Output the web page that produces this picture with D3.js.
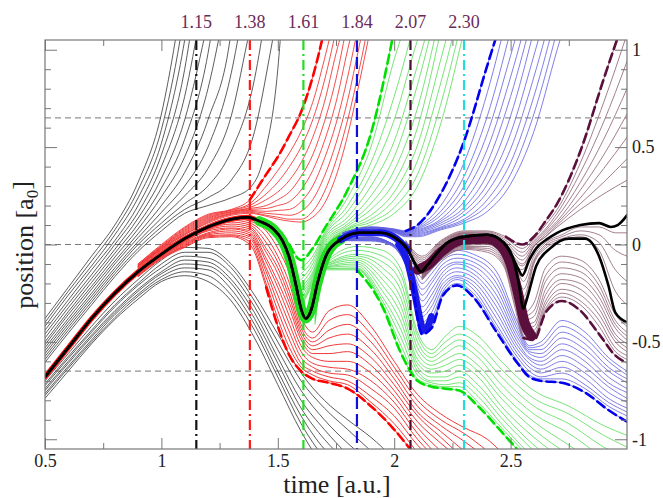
<!DOCTYPE html>
<html lang="en">
<head>
<meta charset="UTF-8">
<title>Trajectories</title>
<script src="https://d3js.org/d3.v7.min.js"></script>
<style>
  body { margin: 0; background: #fff; }
  svg text { font-family: "Liberation Serif", "DejaVu Serif", serif; }
</style>
</head>
<body>
<svg id="chart" width="663" height="498"></svg>
<script>
// marked times (vertical lines) and reference positions (horizontal dashed)
const markTimes = [1.15, 1.38, 1.61, 1.84, 2.07, 2.30];
const markLabels = ["1.15", "1.38", "1.61", "1.84", "2.07", "2.30"];
const markColors = ["#111111", "#ff1a1a", "#22dd22", "#1010dd", "#4a1030", "#22dddd"];
const markDash = ["10,4,2,4", "10,4,2,4", "10,4,2,4", "12,5", "10,4,2,4", "10,4,2,4"];
const refPositions = [0.65, 0, -0.65];

// ticks
const xMajor = [0.5, 1, 1.5, 2, 2.5];
const xMinor = [0.75, 1.25, 1.75, 2.25, 2.75];
const yMajor = [-1, -0.5, 0, 0.5, 1];
const yMinor = [-0.9, -0.8, -0.7, -0.6, -0.4, -0.3, -0.2, -0.1, 0.1, 0.2, 0.3, 0.4, 0.6, 0.7, 0.8, 0.9];

// main (thick black) trajectory, then its two branches
const trunk = [[0.5,-0.68],[0.6,-0.53],[0.7,-0.38],[0.8,-0.25],[0.9,-0.14],[1.0,-0.05],[1.1,0.03],[1.2,0.09],
  [1.3,0.13],[1.37,0.14],[1.42,0.12],[1.48,0.08],[1.52,0.02],[1.55,-0.07],[1.58,-0.22],[1.6,-0.33],[1.62,-0.38],
  [1.645,-0.33],[1.67,-0.2],[1.71,-0.05],[1.77,0.025],[1.85,0.06],[1.94,0.06],[2.01,0.03],[2.06,-0.03],[2.09,-0.1],
  [2.115,-0.14],[2.14,-0.11],[2.18,-0.05],[2.23,0.01],[2.3,0.04],[2.4,0.05],[2.47,0.01],[2.51,-0.07]];
const tailA = [[2.535,-0.13],[2.55,-0.16],[2.58,-0.08],[2.61,-0.02],[2.66,0.03],[2.7,0.06],[2.8,0.1],[2.88,0.11],
  [2.93,0.09],[2.96,0.1],[3.0,0.15]];
const tailB = [[2.535,-0.2],[2.555,-0.33],[2.57,-0.28],[2.61,-0.11],[2.67,-0.02],[2.75,0.03],[2.82,0.03],[2.88,-0.06],
  [2.92,-0.21],[2.95,-0.35],[3.0,-0.4]];
// dense parts of the blue and maroon bundles
const blueBand = [[2.02,0.0],[2.06,-0.1],[2.09,-0.26],[2.11,-0.38],[2.125,-0.44],[2.14,-0.43],[2.16,-0.37]];
const maroonBand = [[2.1,-0.13],[2.15,-0.1],[2.2,-0.04],[2.3,0.025],[2.4,0.03],[2.46,-0.01],[2.5,-0.1],[2.53,-0.24],
  [2.56,-0.4],[2.59,-0.47]];

// black trajectories that leave upwards
const blackUp = [
  [[0.5,-0.38],[0.6,-0.22],[0.7,-0.06],[0.8,0.1],[0.9,0.32],[1.0,0.67],[1.06,1.05],[1.08,1.2]],
  [[0.5,-0.40],[0.6,-0.24],[0.7,-0.085],[0.8,0.075],[0.9,0.28],[1.0,0.59],[1.08,1.05],[1.1,1.2]],
  [[0.5,-0.42],[0.6,-0.26],[0.7,-0.11],[0.8,0.05],[0.9,0.24],[1.0,0.52],[1.1,1.05],[1.12,1.2]],
  [[0.5,-0.44],[0.6,-0.285],[0.7,-0.13],[0.8,0.02],[0.9,0.2],[1.0,0.46],[1.1,0.9],[1.14,1.2]],
  [[0.5,-0.46],[0.6,-0.305],[0.7,-0.155],[0.8,0.0],[0.9,0.165],[1.0,0.4],[1.1,0.76],[1.17,1.2]],
  [[0.5,-0.48],[0.6,-0.325],[0.7,-0.175],[0.8,-0.025],[0.9,0.135],[1.0,0.34],[1.1,0.64],[1.2,1.15]],
  [[0.5,-0.50],[0.6,-0.345],[0.7,-0.195],[0.8,-0.045],[0.9,0.105],[1.0,0.29],[1.1,0.54],[1.2,0.98],[1.23,1.2]],
  [[0.5,-0.515],[0.6,-0.36],[0.7,-0.215],[0.8,-0.065],[0.9,0.08],[1.0,0.245],[1.1,0.45],[1.2,0.8],[1.27,1.2]],
  [[0.5,-0.53],[0.6,-0.38],[0.7,-0.23],[0.8,-0.085],[0.9,0.055],[1.0,0.2],[1.1,0.37],[1.2,0.64],[1.3,1.1],[1.31,1.2]],
  [[0.5,-0.545],[0.6,-0.395],[0.7,-0.25],[0.8,-0.1],[0.9,0.035],[1.0,0.165],[1.1,0.3],[1.2,0.5],[1.3,0.88],[1.35,1.2]],
  [[0.5,-0.56],[0.6,-0.41],[0.7,-0.265],[0.8,-0.12],[0.9,0.015],[1.0,0.135],[1.1,0.25],[1.2,0.39],[1.3,0.66],[1.38,1.1],[1.4,1.2]],
  [[0.5,-0.575],[0.6,-0.425],[0.7,-0.28],[0.8,-0.135],[0.9,0.0],[1.0,0.11],[1.1,0.21],[1.2,0.3],[1.3,0.48],[1.4,0.85],[1.45,1.2]],
  [[0.5,-0.59],[0.6,-0.44],[0.7,-0.295],[0.8,-0.15],[0.9,-0.02],[1.0,0.09],[1.1,0.18],[1.2,0.24],[1.3,0.33],[1.4,0.58],[1.47,1.0],[1.5,1.2]],
  [[0.5,-0.605],[0.6,-0.455],[0.7,-0.31],[0.8,-0.165],[0.9,-0.035],[1.0,0.07],[1.1,0.16],[1.2,0.2],[1.3,0.24],[1.38,0.29],[1.44,0.45],[1.5,0.9],[1.52,1.2]]
];

// black trajectories that leave downwards
const blackDownTimes = [0.5,0.6,0.7,0.8,0.9,1.0,1.1,1.2,1.3,1.4,1.5,1.6,1.7,1.8,1.9,2.0];
const blackDown = [
  [-0.70,-0.56,-0.42,-0.29,-0.18,-0.08,-0.015,-0.02,-0.1,-0.26,-0.46,-0.66,-0.8,-0.9,-0.99,-1.1],
  [-0.715,-0.575,-0.44,-0.31,-0.2,-0.1,-0.04,-0.04,-0.12,-0.29,-0.5,-0.7,-0.84,-0.95,-1.06],
  [-0.725,-0.585,-0.45,-0.32,-0.21,-0.12,-0.06,-0.07,-0.15,-0.32,-0.54,-0.75,-0.9,-1.02,-1.12],
  [-0.74,-0.6,-0.465,-0.34,-0.23,-0.14,-0.08,-0.09,-0.18,-0.35,-0.58,-0.8,-0.95,-1.08],
  [-0.75,-0.61,-0.475,-0.35,-0.24,-0.15,-0.1,-0.11,-0.2,-0.38,-0.61,-0.84,-1.0,-1.12],
  [-0.765,-0.625,-0.49,-0.36,-0.255,-0.165,-0.12,-0.13,-0.23,-0.41,-0.65,-0.88,-1.05,-1.15],
  [-0.775,-0.635,-0.5,-0.375,-0.265,-0.18,-0.14,-0.16,-0.26,-0.44,-0.68,-0.92,-1.1],
  [-0.79,-0.65,-0.51,-0.385,-0.28,-0.19,-0.16,-0.19,-0.29,-0.48,-0.72,-0.96,-1.15]
];

// red trajectories
const redUpTimes = [0.9,1.0,1.1,1.2,1.3,1.38,1.45,1.5,1.55,1.6,1.65,1.7,1.75,1.8,1.85,1.9];
const redUp = [
  [-0.1,0.0,0.09,0.155,0.18,0.23,0.36,0.45,0.56,0.68,0.86,1.1],
  [-0.1,-0.005,0.085,0.15,0.177,0.21,0.3,0.38,0.47,0.58,0.73,0.95,1.2],
  [-0.105,-0.01,0.08,0.145,0.175,0.2,0.26,0.32,0.4,0.5,0.64,0.84,1.1],
  [-0.105,-0.01,0.075,0.14,0.17,0.19,0.23,0.27,0.33,0.42,0.55,0.73,0.98,1.2],
  [-0.11,-0.015,0.07,0.135,0.168,0.185,0.2,0.23,0.27,0.35,0.46,0.63,0.85,1.15],
  [-0.11,-0.015,0.065,0.13,0.165,0.18,0.185,0.2,0.22,0.28,0.38,0.53,0.73,1.0,1.25],
  [-0.11,-0.02,0.06,0.125,0.16,0.175,0.17,0.175,0.18,0.22,0.3,0.44,0.62,0.86,1.15],
  [-0.115,-0.02,0.055,0.12,0.158,0.17,0.16,0.155,0.15,0.17,0.23,0.35,0.52,0.74,1.02,1.3],
  [-0.115,-0.025,0.05,0.115,0.155,0.165,0.15,0.14,0.13,0.13,0.17,0.27,0.43,0.64,0.9,1.2],
  [-0.115,-0.025,0.05,0.11,0.15,0.16,0.145,0.13,0.12,0.115,0.14,0.21,0.35,0.56,0.83,1.12]
];
const redDownTimes = [0.9,1.0,1.1,1.2,1.3,1.38,1.45,1.5,1.55,1.6,1.65,1.72,1.8,1.9,2.0,2.1,2.2,2.3,2.4,2.5];
const redDown = [
  [-0.12,-0.03,0.04,0.1,0.135,0.12,0.07,-0.02,-0.15,-0.37,-0.45,-0.34,-0.31,-0.42,-0.6,-0.77,-0.87,-0.94,-1.0,-1.12],
  [-0.125,-0.035,0.035,0.095,0.125,0.11,0.04,-0.06,-0.2,-0.41,-0.48,-0.39,-0.36,-0.46,-0.63,-0.8,-0.9,-0.97,-1.06],
  [-0.13,-0.04,0.03,0.09,0.115,0.1,0.01,-0.09,-0.24,-0.43,-0.5,-0.44,-0.41,-0.5,-0.66,-0.83,-0.93,-1.01,-1.1],
  [-0.135,-0.045,0.025,0.08,0.105,0.09,-0.02,-0.12,-0.27,-0.45,-0.52,-0.48,-0.46,-0.54,-0.69,-0.86,-0.96,-1.06],
  [-0.14,-0.05,0.02,0.075,0.095,0.08,-0.04,-0.15,-0.3,-0.47,-0.54,-0.52,-0.51,-0.58,-0.72,-0.88,-0.99,-1.1],
  [-0.14,-0.055,0.015,0.07,0.085,0.07,-0.07,-0.19,-0.33,-0.49,-0.56,-0.56,-0.55,-0.62,-0.75,-0.91,-1.02,-1.12],
  [-0.145,-0.06,0.01,0.06,0.08,0.06,-0.09,-0.22,-0.37,-0.52,-0.58,-0.6,-0.6,-0.66,-0.78,-0.94,-1.06],
  [-0.15,-0.06,0.005,0.055,0.07,0.05,-0.12,-0.26,-0.41,-0.55,-0.61,-0.63,-0.64,-0.7,-0.81,-0.97,-1.1],
  [-0.155,-0.065,0.0,0.05,0.06,0.04,-0.14,-0.3,-0.45,-0.58,-0.63,-0.66,-0.67,-0.74,-0.84,-1.0,-1.12],
  [-0.16,-0.07,-0.005,0.045,0.05,0.03,-0.17,-0.34,-0.49,-0.61,-0.65,-0.68,-0.7,-0.78,-0.88,-1.03,-1.14],
  [-0.16,-0.07,-0.01,0.04,0.045,0.015,-0.2,-0.38,-0.53,-0.63,-0.67,-0.7,-0.72,-0.81,-0.92,-1.07],
  [-0.165,-0.075,-0.015,0.035,0.04,0.0,-0.22,-0.42,-0.57,-0.65,-0.69,-0.71,-0.74,-0.83,-0.95,-1.1]
];

// green trajectories
const greenUpTimes = [1.5,1.55,1.6,1.65,1.7,1.8,1.9,2.0,2.1,2.2,2.3];
const greenUp = [
  [0.08,0.0,-0.08,-0.02,0.08,0.28,0.57,1.1],
  [null,null,-0.12,-0.06,0.06,0.24,0.5,0.95,1.3],
  [null,null,-0.15,-0.08,0.05,0.2,0.42,0.76,1.2],
  [null,null,-0.18,-0.1,0.04,0.17,0.36,0.64,1.05,1.4],
  [null,null,-0.2,-0.12,0.03,0.14,0.3,0.53,0.92,1.35],
  [null,null,-0.22,-0.14,0.02,0.12,0.25,0.45,0.82,1.3],
  [null,null,-0.24,-0.15,0.01,0.105,0.21,0.38,0.7,1.2],
  [null,null,-0.26,-0.16,0.0,0.095,0.18,0.32,0.6,1.1],
  [null,null,-0.28,-0.17,-0.01,0.085,0.15,0.27,0.51,0.95,1.4],
  [null,null,-0.3,-0.18,-0.02,0.08,0.13,0.23,0.43,0.83,1.3],
  [null,null,-0.31,-0.19,-0.03,0.075,0.115,0.19,0.36,0.72,1.2],
  [null,null,-0.32,-0.2,-0.04,0.07,0.1,0.16,0.3,0.62,1.1]
];
const greenDownTimes = [1.66,1.7,1.84,1.95,2.03,2.1,2.16,2.22,2.28,2.36,2.46,2.6,2.75,2.9,3.0];
const greenDown = [
  [-0.3,-0.1,-0.01,-0.03,-0.13,-0.45,-0.54,-0.47,-0.42,-0.47,-0.6,-0.75,-0.83,-0.93,-0.98],
  [-0.31,-0.105,-0.03,-0.06,-0.16,-0.47,-0.56,-0.5,-0.46,-0.51,-0.64,-0.79,-0.87,-0.98,-1.04],
  [-0.32,-0.11,-0.05,-0.09,-0.2,-0.5,-0.58,-0.53,-0.49,-0.55,-0.68,-0.83,-0.92,-1.04,-1.1],
  [-0.33,-0.11,-0.06,-0.12,-0.24,-0.53,-0.6,-0.56,-0.52,-0.58,-0.72,-0.87,-0.97,-1.1],
  [-0.34,-0.115,-0.07,-0.15,-0.28,-0.56,-0.62,-0.59,-0.56,-0.62,-0.76,-0.91,-1.03,-1.15],
  [-0.35,-0.115,-0.08,-0.18,-0.32,-0.59,-0.64,-0.62,-0.59,-0.65,-0.79,-0.95,-1.08],
  [-0.36,-0.12,-0.09,-0.21,-0.36,-0.61,-0.66,-0.65,-0.62,-0.68,-0.83,-0.99,-1.12],
  [-0.37,-0.12,-0.1,-0.24,-0.4,-0.63,-0.68,-0.68,-0.65,-0.72,-0.86,-1.03,-1.15],
  [-0.38,-0.12,-0.11,-0.27,-0.44,-0.65,-0.7,-0.7,-0.68,-0.75,-0.89,-1.06],
  [-0.39,-0.125,-0.12,-0.29,-0.48,-0.67,-0.71,-0.72,-0.71,-0.78,-0.92,-1.1],
  [-0.4,-0.125,-0.125,-0.31,-0.52,-0.69,-0.72,-0.73,-0.73,-0.81,-0.94,-1.12],
  [-0.41,-0.13,-0.13,-0.32,-0.56,-0.7,-0.73,-0.74,-0.75,-0.83,-0.96,-1.15]
];

// blue trajectories
const blueUpTimes = [1.78,1.9,2.0,2.05,2.1,2.2,2.3,2.4,2.5,2.6,2.7,2.8];
const blueUp = [
  [0.06,0.09,0.08,0.07,0.1,0.26,0.53,0.92,1.3],
  [0.06,0.09,0.078,0.067,0.09,0.2,0.42,0.78,1.25],
  [0.06,0.088,0.076,0.065,0.085,0.17,0.35,0.66,1.1],
  [0.058,0.088,0.075,0.063,0.08,0.15,0.3,0.57,0.97,1.4],
  [0.058,0.087,0.074,0.06,0.075,0.13,0.26,0.49,0.86,1.3],
  [0.057,0.086,0.073,0.058,0.07,0.12,0.22,0.42,0.76,1.2],
  [0.056,0.085,0.072,0.055,0.065,0.11,0.19,0.36,0.66,1.1],
  [0.055,0.084,0.07,0.052,0.06,0.1,0.17,0.31,0.57,0.97,1.4],
  [0.054,0.083,0.068,0.05,0.055,0.09,0.15,0.27,0.49,0.86,1.3],
  [0.053,0.082,0.066,0.047,0.05,0.085,0.13,0.23,0.42,0.76,1.2],
  [0.052,0.081,0.064,0.044,0.045,0.08,0.12,0.2,0.36,0.67,1.1],
  [0.05,0.08,0.062,0.04,0.04,0.075,0.11,0.17,0.31,0.58,1.0,1.4]
];
const blueDownTimes = [1.78,1.9,1.98,2.04,2.08,2.12,2.16,2.21,2.27,2.34,2.44,2.53,2.58,2.63,2.72,2.82,2.92,3.0];
const blueDown = [
  [0.03,0.04,0.01,-0.04,-0.1,-0.17,-0.13,-0.06,-0.03,-0.05,-0.14,-0.4,-0.52,-0.5,-0.39,-0.45,-0.58,-0.65],
  [0.03,0.038,0.01,-0.05,-0.12,-0.2,-0.15,-0.08,-0.05,-0.07,-0.17,-0.42,-0.53,-0.52,-0.42,-0.48,-0.6,-0.67],
  [0.03,0.036,0.01,-0.05,-0.14,-0.23,-0.18,-0.1,-0.07,-0.09,-0.2,-0.44,-0.54,-0.54,-0.45,-0.51,-0.63,-0.69],
  [0.028,0.034,0.01,-0.06,-0.15,-0.26,-0.2,-0.12,-0.09,-0.11,-0.23,-0.46,-0.55,-0.56,-0.48,-0.54,-0.65,-0.71],
  [0.028,0.032,0.01,-0.06,-0.16,-0.29,-0.23,-0.14,-0.1,-0.13,-0.26,-0.48,-0.56,-0.58,-0.51,-0.57,-0.68,-0.74],
  [0.026,0.03,0.01,-0.06,-0.17,-0.32,-0.26,-0.16,-0.12,-0.15,-0.29,-0.5,-0.58,-0.6,-0.54,-0.6,-0.71,-0.76],
  [0.026,0.028,0.01,-0.07,-0.18,-0.35,-0.29,-0.18,-0.14,-0.17,-0.32,-0.52,-0.59,-0.62,-0.57,-0.63,-0.73,-0.79],
  [0.024,0.026,0.01,-0.07,-0.19,-0.37,-0.32,-0.2,-0.16,-0.19,-0.35,-0.54,-0.61,-0.64,-0.6,-0.66,-0.76,-0.81],
  [0.024,0.024,0.005,-0.07,-0.2,-0.4,-0.35,-0.22,-0.17,-0.21,-0.38,-0.56,-0.63,-0.66,-0.63,-0.69,-0.79,-0.84],
  [0.022,0.022,0.005,-0.08,-0.2,-0.42,-0.38,-0.24,-0.18,-0.23,-0.41,-0.58,-0.65,-0.68,-0.66,-0.72,-0.81,-0.86],
  [0.02,0.02,0.0,-0.08,-0.2,-0.44,-0.41,-0.25,-0.2,-0.25,-0.43,-0.6,-0.67,-0.69,-0.69,-0.74,-0.83,-0.88],
  [0.02,0.018,0.0,-0.08,-0.2,-0.46,-0.43,-0.26,-0.21,-0.27,-0.45,-0.61,-0.68,-0.7,-0.71,-0.76,-0.85,-0.91]
];

// maroon trajectories
const maroonUpTimes = [2.05,2.12,2.2,2.3,2.4,2.48,2.55,2.6,2.65,2.7,2.8,2.9,3.0];
const maroonUp = [
  [0.02,-0.06,0.02,0.07,0.07,0.04,0.0,0.04,0.12,0.21,0.48,0.85,1.2],
  [0.015,-0.07,0.015,0.065,0.065,0.03,-0.02,0.03,0.1,0.18,0.42,0.73,1.08],
  [0.01,-0.08,0.01,0.06,0.06,0.02,-0.04,0.02,0.08,0.16,0.37,0.63,0.94],
  [0.005,-0.09,0.005,0.06,0.055,0.01,-0.06,0.01,0.07,0.14,0.32,0.54,0.8],
  [0.0,-0.1,0.0,0.055,0.05,0.0,-0.08,0.0,0.06,0.12,0.28,0.46,0.67],
  [-0.005,-0.11,-0.005,0.055,0.045,-0.01,-0.1,-0.01,0.05,0.11,0.24,0.39,0.55],
  [-0.01,-0.12,-0.01,0.05,0.04,-0.02,-0.11,-0.01,0.04,0.1,0.21,0.32,0.44],
  [-0.015,-0.13,-0.015,0.05,0.035,-0.03,-0.13,-0.01,0.04,0.09,0.18,0.26,0.33]
];
const maroonDownTimes = [2.12,2.2,2.3,2.4,2.47,2.52,2.555,2.6,2.65,2.72,2.8,2.88,2.95,3.0];
const maroonDown = [
  [-0.15,-0.035,0.035,0.045,0.005,-0.1,-0.19,-0.06,0.01,0.05,0.09,0.09,0.06,0.06],
  [-0.15,-0.04,0.03,0.04,0.0,-0.11,-0.23,-0.08,0.0,0.04,0.07,0.05,-0.03,-0.06],
  [-0.155,-0.045,0.03,0.035,-0.005,-0.12,-0.27,-0.09,-0.01,0.03,0.05,0.01,-0.13,-0.19],
  [-0.155,-0.05,0.025,0.03,-0.01,-0.13,-0.3,-0.1,-0.02,0.02,0.04,-0.03,-0.24,-0.31],
  [-0.16,-0.05,0.02,0.025,-0.02,-0.15,-0.35,-0.3,-0.12,-0.06,-0.08,-0.18,-0.36,-0.42],
  [-0.16,-0.055,0.015,0.02,-0.03,-0.17,-0.37,-0.34,-0.16,-0.09,-0.11,-0.21,-0.39,-0.45],
  [-0.165,-0.06,0.01,0.015,-0.04,-0.19,-0.39,-0.37,-0.19,-0.12,-0.14,-0.24,-0.41,-0.47],
  [-0.165,-0.06,0.005,0.01,-0.05,-0.21,-0.41,-0.4,-0.23,-0.15,-0.17,-0.27,-0.43,-0.49],
  [-0.17,-0.065,0.0,0.005,-0.06,-0.23,-0.43,-0.42,-0.26,-0.18,-0.2,-0.3,-0.46,-0.51],
  [-0.17,-0.07,-0.005,0.0,-0.07,-0.25,-0.44,-0.44,-0.29,-0.2,-0.23,-0.33,-0.48,-0.53],
  [-0.175,-0.07,-0.01,-0.01,-0.08,-0.27,-0.45,-0.46,-0.31,-0.23,-0.26,-0.36,-0.5,-0.55],
  [-0.175,-0.075,-0.015,-0.02,-0.09,-0.29,-0.46,-0.47,-0.33,-0.25,-0.29,-0.39,-0.53,-0.57],
  [-0.18,-0.08,-0.02,-0.03,-0.1,-0.31,-0.47,-0.48,-0.34,-0.27,-0.31,-0.42,-0.55,-0.59],
  [-0.18,-0.08,-0.025,-0.04,-0.11,-0.33,-0.48,-0.49,-0.35,-0.29,-0.34,-0.46,-0.57,-0.61]
];

// time from which each bundle border is drawn dashed: [upper, lower]
const redDashFrom = [1.33, 1.42];
const greenDashFrom = [1.55, 1.8];
const blueDashFrom = [2.05, 2.08];
const maroonDashFrom = [2.47, 2.55];

// ---- drawing ----
const svg = d3.select("#chart");
const plotL = 45, plotR = 627, plotT = 40, plotB = 449;

const x = d3.scaleLinear().domain([0.5, 3.0]).range([plotL, plotR]);
const y = d3.scaleLinear().domain([-1.05, 1.05]).range([plotB, plotT]);

const line = d3.line()
    .x(d => x(d[0]))
    .y(d => y(d[1]))
    .curve(d3.curveMonotoneX);

// pair a row of positions with its time grid
function onGrid(times, rows) {
    return rows.map(r => times.map((t, i) => [t, r[i]]).filter(p => p[1] != null));
}
const trunkPart = (a, b) => trunk.filter(p => p[0] >= a && p[0] <= b);
const after = (pts, t0) => pts.filter(p => p[0] >= t0);
const lastOf = a => a[a.length - 1];

svg.append("defs").append("clipPath").attr("id", "plot-clip")
    .append("rect").attr("x", plotL).attr("y", plotT)
    .attr("width", plotR - plotL).attr("height", plotB - plotT);

const plot = svg.append("g").attr("clip-path", "url(#plot-clip)");

function drawSet(lines, color, width, dash) {
    plot.append("g").selectAll("path")
        .data(lines)
        .join("path")
        .attr("d", line)
        .attr("fill", "none")
        .attr("stroke", color)
        .attr("stroke-width", width)
        .attr("stroke-linecap", "round")
        .attr("stroke-dasharray", dash || null);
}

// horizontal reference lines
plot.append("g").selectAll("line")
    .data(refPositions)
    .join("line")
    .attr("x1", plotL).attr("x2", plotR)
    .attr("y1", d => y(d)).attr("y2", d => y(d))
    .attr("stroke", "#777").attr("stroke-width", 1)
    .attr("stroke-dasharray", "6,4");

const redDownPts = onGrid(redDownTimes, redDown);
const redUpPts = onGrid(redUpTimes, redUp);
const greenUpPts = onGrid(greenUpTimes, greenUp);
const greenDownPts = onGrid(greenDownTimes, greenDown);
const blueUpPts = onGrid(blueUpTimes, blueUp);
const blueDownPts = onGrid(blueDownTimes, blueDown);
const maroonUpPts = onGrid(maroonUpTimes, maroonUp);
const maroonDownPts = onGrid(maroonDownTimes, maroonDown);

// thin trajectories
drawSet(blackUp, "#333", 0.8);
drawSet(onGrid(blackDownTimes, blackDown), "#333", 0.8);
drawSet([trunkPart(0.5, 1.42)], "#ff1010", 5);
drawSet(redDownPts, "#f03a3a", 1.0);
drawSet(redUpPts, "#f03a3a", 0.9);
drawSet(greenDownPts, "#55dd55", 0.8);
drawSet(greenUpPts, "#55dd55", 0.8);
drawSet(blueDownPts, "#6060e0", 0.8);
drawSet(blueUpPts, "#6060e0", 0.8);
drawSet(maroonDownPts, "#8c5f72", 0.8);
drawSet(maroonUpPts, "#8c5f72", 0.8);

// dense bundles around the main trajectory
drawSet([trunkPart(1.4, 1.8)], "#22dd22", 10);
drawSet([trunkPart(1.76, 2.06), blueBand], "#1a1ae6", 7);
drawSet([maroonBand], "#5a0f3c", 10);

// dashed borders of each bundle
drawSet([after(redUpPts[0], redDashFrom[0]), after(lastOf(redDownPts), redDashFrom[1])], "#ff0000", 2.6, "9,5");
drawSet([after(greenUpPts[0], greenDashFrom[0]), after(lastOf(greenDownPts), greenDashFrom[1])], "#00e000", 2.6, "9,5");
drawSet([after(blueUpPts[0], blueDashFrom[0]), after(lastOf(blueDownPts), blueDashFrom[1])], "#0000ee", 2.6, "9,5");
drawSet([after(maroonUpPts[0], maroonDashFrom[0]), after(lastOf(maroonDownPts), maroonDashFrom[1])], "#5a0f3c", 2.6, "9,5");

// vertical marks
plot.append("g").selectAll("line")
    .data(markTimes)
    .join("line")
    .attr("x1", d => x(d)).attr("x2", d => x(d))
    .attr("y1", plotT).attr("y2", plotB)
    .attr("stroke", (d, i) => markColors[i])
    .attr("stroke-width", 2.2)
    .attr("stroke-dasharray", (d, i) => markDash[i]);

// main trajectory on top
drawSet([trunk.concat(tailA), trunk.concat(tailB)], "#000", 2.6);

// frame
svg.append("rect")
    .attr("x", plotL).attr("y", plotT)
    .attr("width", plotR - plotL).attr("height", plotB - plotT)
    .attr("fill", "none").attr("stroke", "#777").attr("stroke-width", 1.2);

// axes, ticks pointing inwards
function styleAxis(g) {
    g.select(".domain").remove();
    g.selectAll(".tick line").attr("stroke", "#777");
    g.attr("font-family", "Liberation Serif, serif").attr("font-size", 18);
    g.selectAll(".tick text").attr("fill", "#222");
}
const fmt = d => String(d);
svg.append("g").attr("transform", `translate(0,${plotB})`)
    .call(d3.axisBottom(x).tickValues(xMajor).tickSize(-11).tickPadding(5).tickFormat(fmt)).call(styleAxis);
svg.append("g").attr("transform", `translate(0,${plotB})`)
    .call(d3.axisBottom(x).tickValues(xMinor).tickSize(-6).tickFormat("")).call(styleAxis);
svg.append("g").attr("transform", `translate(0,${plotT})`)
    .call(d3.axisTop(x).tickValues(xMajor).tickSize(-11).tickFormat("")).call(styleAxis);
svg.append("g").attr("transform", `translate(0,${plotT})`)
    .call(d3.axisTop(x).tickValues(xMinor).tickSize(-6).tickFormat("")).call(styleAxis);
svg.append("g").attr("transform", `translate(${plotL},0)`)
    .call(d3.axisLeft(y).tickValues(yMajor).tickSize(-12).tickFormat("")).call(styleAxis);
svg.append("g").attr("transform", `translate(${plotL},0)`)
    .call(d3.axisLeft(y).tickValues(yMinor).tickSize(-6).tickFormat("")).call(styleAxis);
svg.append("g").attr("transform", `translate(${plotR},0)`)
    .call(d3.axisRight(y).tickValues(yMajor).tickSize(-12).tickPadding(5).tickFormat(fmt)).call(styleAxis);
svg.append("g").attr("transform", `translate(${plotR},0)`)
    .call(d3.axisRight(y).tickValues(yMinor).tickSize(-6).tickFormat("")).call(styleAxis);

// labels of the marked times
svg.append("g").selectAll("text")
    .data(markTimes)
    .join("text")
    .attr("x", d => x(d))
    .attr("y", 28)
    .attr("text-anchor", "middle")
    .attr("font-size", 18)
    .attr("fill", "#6a2c5a")
    .text((d, i) => markLabels[i]);

// axis titles
svg.append("text")
    .attr("x", 337).attr("y", 493)
    .attr("text-anchor", "middle")
    .attr("font-size", 26)
    .attr("fill", "#222")
    .text("time [a.u.]");

const yTitle = svg.append("text")
    .attr("transform", "translate(33,245) rotate(-90)")
    .attr("text-anchor", "middle")
    .attr("font-size", 26)
    .attr("fill", "#222");
yTitle.append("tspan").text("position [a");
yTitle.append("tspan").attr("font-size", 17).attr("dy", "0.3em").text("0");
yTitle.append("tspan").attr("dy", "-0.3em").text("]");
</script>
</body>
</html>
